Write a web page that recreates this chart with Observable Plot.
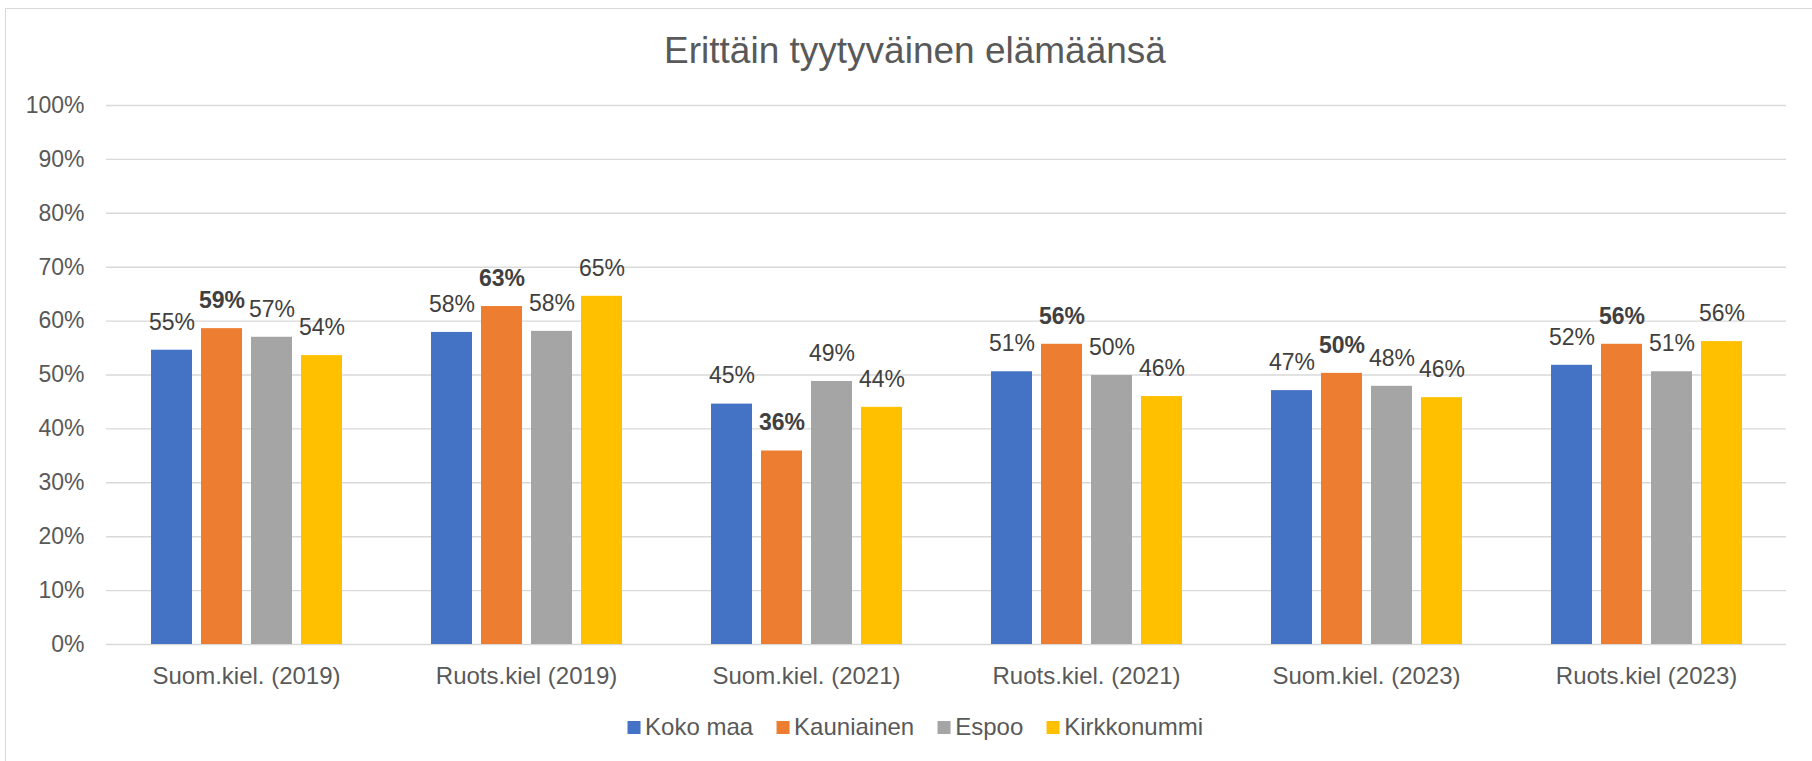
<!DOCTYPE html>
<html>
<head>
<meta charset="utf-8">
<script src="https://cdn.jsdelivr.net/npm/d3@7"></script>
<script src="https://cdn.jsdelivr.net/npm/@observablehq/plot@0.6"></script>
<style>
  html, body { margin: 0; padding: 0; background: #fff; }
  #wrap { position: relative; width: 1812px; height: 761px; overflow: hidden; font-family: "Liberation Sans", Arial, sans-serif; }
  #frame { position: absolute; left: 5px; top: 7.5px; width: 1840px; height: 800px; border: 1.5px solid #d9d9d9; box-sizing: border-box; }
  #title { position: absolute; left: 915px; top: 32px; transform: translateX(-50%); font-size: 37px; line-height: 37px; color: #595959; white-space: nowrap; }
  #legend { position: absolute; left: 915px; top: 727px; transform: translate(-50%, -50%); display: flex; align-items: center; font-size: 24px; line-height: 24px; color: #595959; white-space: nowrap; }
  #legend .item { display: flex; align-items: center; margin: 0 11.5px; }
  #legend .sw { width: 13px; height: 13px; margin-right: 5px; }
  #chart { position: absolute; left: 0; top: 0; }
  [aria-label^="fx-axis"] text { font-size: 24px; }
</style>
</head>
<body>
<div id="wrap">
  <div id="frame"></div>
  <div id="chart"></div>
  <div id="title"></div>
  <div id="legend"></div>
</div>
<script>
const titleText = "Erittäin tyytyväinen elämäänsä";
const categories = ["Suom.kiel. (2019)", "Ruots.kiel (2019)", "Suom.kiel. (2021)", "Ruots.kiel. (2021)", "Suom.kiel. (2023)", "Ruots.kiel (2023)"];
const series = ["Koko maa", "Kauniainen", "Espoo", "Kirkkonummi"];
const colors = ["#4472C4", "#ED7D31", "#A5A5A5", "#FFC000"];
const kokoMaa     = [54.6, 57.9, 44.6, 50.6, 47.1, 51.8];
const kauniainen  = [58.6, 62.7, 35.9, 55.7, 50.3, 55.7];
const espoo       = [57.0, 58.1, 48.8, 49.9, 47.9, 50.6];
const kirkkonummi = [53.6, 64.6, 44.0, 46.0, 45.8, 56.2];
const yTicks = [0, 10, 20, 30, 40, 50, 60, 70, 80, 90, 100];
const boldSeries = "Kauniainen";

const seriesValues = [kokoMaa, kauniainen, espoo, kirkkonummi];
const data = [];
categories.forEach((c, i) => {
  series.forEach((s, j) => {
    data.push({category: c, series: s, value: seriesValues[j][i]});
  });
});
const fmt = d => Math.round(d.value) + "%";

const plot = Plot.plot({
  width: 1812,
  height: 761,
  marginLeft: 104,
  marginRight: 24,
  marginTop: 105,
  marginBottom: 117,
  style: {fontFamily: "'Liberation Sans', Arial, sans-serif", fontSize: "23px", color: "#595959", background: "transparent"},
  fx: {domain: categories, padding: 0, axis: "bottom", label: null, tickSize: 0, tickPadding: 22},
  x: {domain: series, axis: null, paddingInner: 0.19, paddingOuter: 0.863},
  y: {domain: [0, 100], ticks: yTicks, tickFormat: d => d + "%", tickSize: 0, tickPadding: 22, label: null},
  color: {domain: series, range: colors},
  marks: [
    Plot.ruleY(yTicks, {y: d => d, stroke: "#d9d9d9", strokeWidth: 1.4}),
    Plot.barY(data, {fx: "category", x: "series", y: "value", fill: "series"}),
    Plot.text(data.filter(d => d.series !== boldSeries), {fx: "category", x: "series", y: "value", text: fmt, dy: -28, fill: "#404040", fontSize: 23}),
    Plot.text(data.filter(d => d.series === boldSeries), {fx: "category", x: "series", y: "value", text: fmt, dy: -28, fill: "#404040", fontSize: 23, fontWeight: "bold"})
  ]
});
document.getElementById("chart").appendChild(plot);
document.getElementById("title").textContent = titleText;

const legend = document.getElementById("legend");
series.forEach((s, i) => {
  const item = document.createElement("div");
  item.className = "item";
  const sw = document.createElement("div");
  sw.className = "sw";
  sw.style.background = colors[i];
  const label = document.createElement("span");
  label.textContent = s;
  item.appendChild(sw);
  item.appendChild(label);
  legend.appendChild(item);
});
</script>
</body>
</html>
